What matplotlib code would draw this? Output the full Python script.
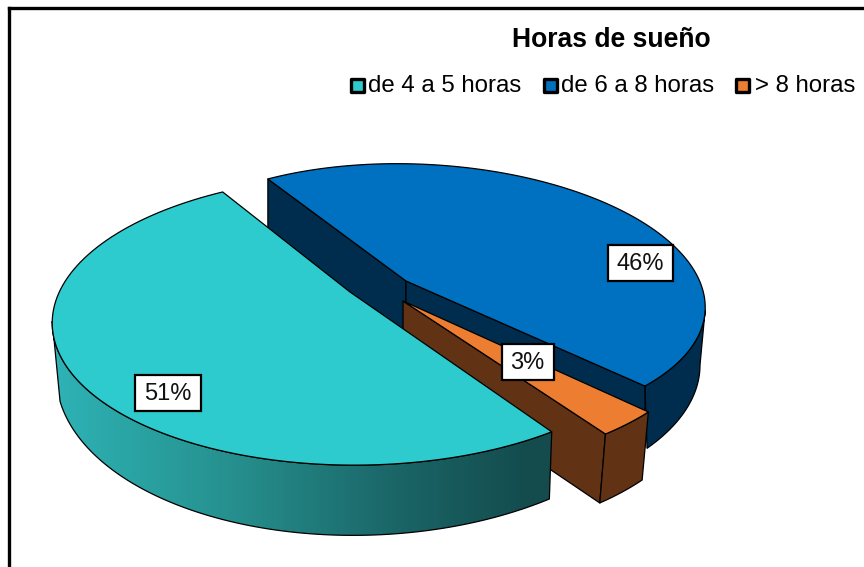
import numpy as np
import matplotlib
matplotlib.use("Agg")
import matplotlib.pyplot as plt
from matplotlib.colors import LinearSegmentedColormap
from matplotlib.patches import Polygon, Rectangle

plt.rcParams["font.family"] = ["Liberation Sans", "DejaVu Sans"]

title = "Horas de sueño"
categories = ["de 4 a 5 horas", "de 6 a 8 horas", "> 8 horas"]
values = [51, 46, 3]
labels = ["51%", "46%", "3%"]

TEAL = "#2ECBCE"
BLUE = "#0070C0"
ORANGE = "#ED7D31"
NAVY = "#002D4D"
BROWN = "#613214"
LW = 0.9


def arc(ell, t0, t1, n=120):
    # ellipse in pixel coords, y pointing down
    cx, cy, a, b, phi = ell
    t = np.radians(np.linspace(t0, t1, n))
    p = np.radians(phi)
    x = a * np.cos(t)
    y = b * np.sin(t)
    return np.c_[cx + x * np.cos(p) - y * np.sin(p), cy + x * np.sin(p) + y * np.cos(p)]


def poly(ax, pts, color, lw=LW, edge="black", z=1):
    ax.add_patch(Polygon(pts, closed=True, facecolor=color, edgecolor=edge, lw=lw, joinstyle="round", zorder=z))


fig = plt.figure(figsize=(8.64, 5.67), dpi=100)
ax = fig.add_axes([0, 0, 1, 1])
ax.axis("off")

# slices: arc start angle and how much the perspective stretches the sweep
teal_top = (359.6, 320.4, 307.4, 144.7, -0.6)
teal_bot = (367.6, 367.0, 311.6, 168.1, -2.04)
blue_top = (421.4, 295.9, 284.1, 131.6, 2.92)
blue_bot = (430.0, 365.0, 270.0, 140.0, 0.0)
orange_top = (400.0, 328.5, 307.0, 142.0, 0.0)
orange_bot = (397.0, 393.0, 303.0, 148.0, 0.0)

teal_t0, teal_t1 = 51.6, 51.6 + values[0] * 3.6 * 1.047
blue_t0, blue_t1 = 235.9, 235.9 + values[1] * 3.6 * 0.971
orange_t0, orange_t1 = 36.0, 36.0 + values[2] * 3.6 * 1.11

# blue slice
side = np.r_[arc(blue_top, 360, blue_t1), arc(blue_bot, 36.5, 0)]
poly(ax, side, NAVY, z=1)
blue_apex = (406, 281)
blue_in = arc(blue_top, blue_t0, blue_t1)
p0, p1 = blue_in[0], blue_in[-1]
poly(ax, [p0, blue_apex, (406, 341), p0 + (0, 60)], NAVY, z=2)
poly(ax, [blue_apex, p1, p1 + (0, 61), (406, 341)], NAVY, z=2)
poly(ax, np.r_[blue_in, [blue_apex]], BLUE, z=3)

# orange slice
orange_apex = (403, 301)
o_top = arc(orange_top, orange_t0, orange_t1)
o_bot = arc(orange_bot, orange_t0, orange_t1)
poly(ax, [orange_apex, o_top[-1], o_bot[-1], (403, 370)], BROWN, z=4)
poly(ax, np.r_[o_top, o_bot[::-1]], BROWN, z=4)
poly(ax, np.r_[o_top, [orange_apex]], ORANGE, z=5)

# teal slice, side shaded from left to right
shade = LinearSegmentedColormap.from_list("shade", [(0.0, "#2EB3B6"), (0.35, "#26918F"), (0.7, "#1A6466"), (0.95, "#144C4E"), (1.0, "#144C4E")])
st = arc(teal_top, teal_t0, 181)
sb = arc(teal_bot, 55.4, 172)
outline = np.r_[st, sb[::-1]]
clip = Polygon(outline, closed=True, transform=ax.transData, facecolor="none", edgecolor="none")
ax.add_patch(clip)
im = ax.imshow(np.linspace(0, 1, 256).reshape(1, -1), cmap=shade, extent=(52, 552, 540, 300), aspect="auto", zorder=6, interpolation="bilinear")
im.set_clip_path(clip)
ax.add_patch(Polygon(outline, closed=True, fill=False, edgecolor="black", lw=LW, zorder=7))
teal_in = arc(teal_top, teal_t0, teal_t1)
poly(ax, np.r_[teal_in, [(350, 292)]], TEAL, z=8)

# value labels
label_boxes = [(135, 375, 66, 36), (608, 245, 65, 36), (502, 344, 52, 36)]
for (x, y, w, h), s in zip(label_boxes, labels):
    ax.add_patch(Rectangle((x, y), w, h, facecolor="white", edgecolor="black", lw=1.6, zorder=10))
    ax.text(x + w / 2 - 0.5, y + h / 2 + 1, s, ha="center", va="center", fontsize=17, color="#111111", zorder=11)

# title and legend
ax.text(611, 47, title, ha="center", va="baseline", fontsize=19.1, fontweight="bold", color="black")
legend_x = [350, 543, 735]
text_x = [368, 561, 755]
for x, tx, s, c in zip(legend_x, text_x, categories, [TEAL, BLUE, ORANGE]):
    ax.add_patch(Rectangle((x + 1, 78.5), 13, 13, facecolor=c, edgecolor="black", lw=2.4, joinstyle="round"))
    ax.text(tx, 92, s, ha="left", va="baseline", fontsize=17.3, color="black")

# chart frame
ax.plot([9, 9], [567, 8], color="black", lw=2.4, solid_capstyle="projecting", zorder=20)
ax.plot([9, 864], [8, 8], color="black", lw=2.4, solid_capstyle="projecting", zorder=20)

ax.set_xlim(0, 864)
ax.set_ylim(567, 0)

fig.savefig("out.png", dpi=100)
